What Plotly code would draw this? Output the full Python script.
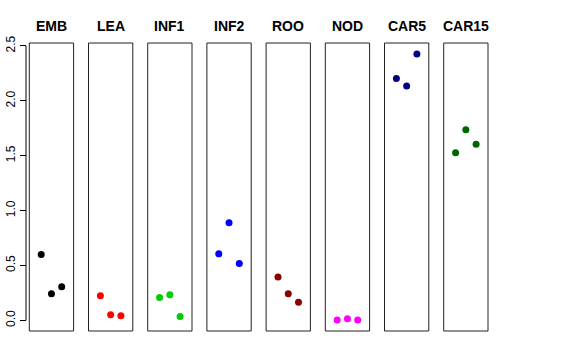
import plotly.graph_objects as go

W, H = 576, 360

tissues = ["EMB", "LEA", "INF1", "INF2", "ROO", "NOD", "CAR5", "CAR15"]
colors = ["#000000", "#FF0000", "#00CD00", "#0000FF", "#8B0000", "#FF00FF", "#000080", "#006400"]
rep_x = [1, 2, 3]
values = {
    "EMB":   [0.60, 0.243, 0.306],
    "LEA":   [0.225, 0.052, 0.043],
    "INF1":  [0.209, 0.234, 0.034],
    "INF2":  [0.606, 0.889, 0.518],
    "ROO":   [0.394, 0.243, 0.164],
    "NOD":   [0.004, 0.015, 0.004],
    "CAR5":  [2.204, 2.136, 2.427],
    "CAR15": [1.527, 1.736, 1.604],
}
y_ticks = [0.0, 0.5, 1.0, 1.5, 2.0, 2.5]
y_range = [-0.097, 2.527]
x_range = [-0.16, 4.16]

left0, step, pw = 29.3, 59.2, 44.3
ytop, ybot = 43, 331
ydom = [1 - ybot / H, 1 - ytop / H]
axis_px = 26

fig = go.Figure()
layout = dict(
    template="none",
    width=W, height=H, margin=dict(l=0, r=0, t=0, b=0, pad=0, autoexpand=False),
    paper_bgcolor="white", plot_bgcolor="white", showlegend=False,
    font=dict(family="Liberation Sans, Arial, sans-serif", color="black"),
)
shapes = []
annotations = []
for i, (t, c) in enumerate(zip(tissues, colors)):
    n = "" if i == 0 else str(i + 1)
    x0 = (left0 + step * i) / W
    x1 = (left0 + step * i + pw) / W
    fig.add_trace(go.Scatter(x=rep_x, y=values[t], mode="markers",
                             marker=dict(color=c, size=7, line=dict(width=0)),
                             xaxis="x" + n, yaxis="y" + n, hoverinfo="skip"))
    layout["xaxis" + n] = dict(domain=[x0, x1], range=x_range, anchor="y" + n,
                               showgrid=False, zeroline=False, showticklabels=False,
                               ticks="", showline=False, automargin=False)
    ya = dict(domain=ydom, range=y_range, showgrid=False, zeroline=False,
              showline=False, automargin=False)
    if i == 0:
        ya.update(anchor="free", position=axis_px / W, tickvals=y_ticks,
                  ticktext=["%.1f" % v for v in y_ticks], ticks="outside",
                  ticklen=6, tickcolor="black", tickwidth=1, tickangle=-90,
                  tickfont=dict(size=12, color="black"))
    else:
        ya.update(anchor="x" + n, showticklabels=False, ticks="")
    layout["yaxis" + n] = ya
    shapes.append(dict(type="rect", xref="x%s domain" % n, yref="y%s domain" % n,
                       x0=0, x1=1, y0=0, y1=1, line=dict(color="#222222", width=1)))
    annotations.append(dict(text="<b>%s</b>" % t, x=(x0 + x1) / 2, y=1 - 26 / H,
                            xref="paper", yref="paper", showarrow=False,
                            xanchor="center", yanchor="middle",
                            font=dict(size=14, color="black")))

shapes.append(dict(type="line", xref="paper", yref="y", x0=axis_px / W, x1=axis_px / W,
                   y0=y_ticks[0], y1=y_ticks[-1], line=dict(color="black", width=1)))
layout["shapes"] = shapes
layout["annotations"] = annotations
fig.update_layout(**layout)
fig.write_html("out.html", config={"displayModeBar": False},
               post_script="document.body.style.margin='0px';")
